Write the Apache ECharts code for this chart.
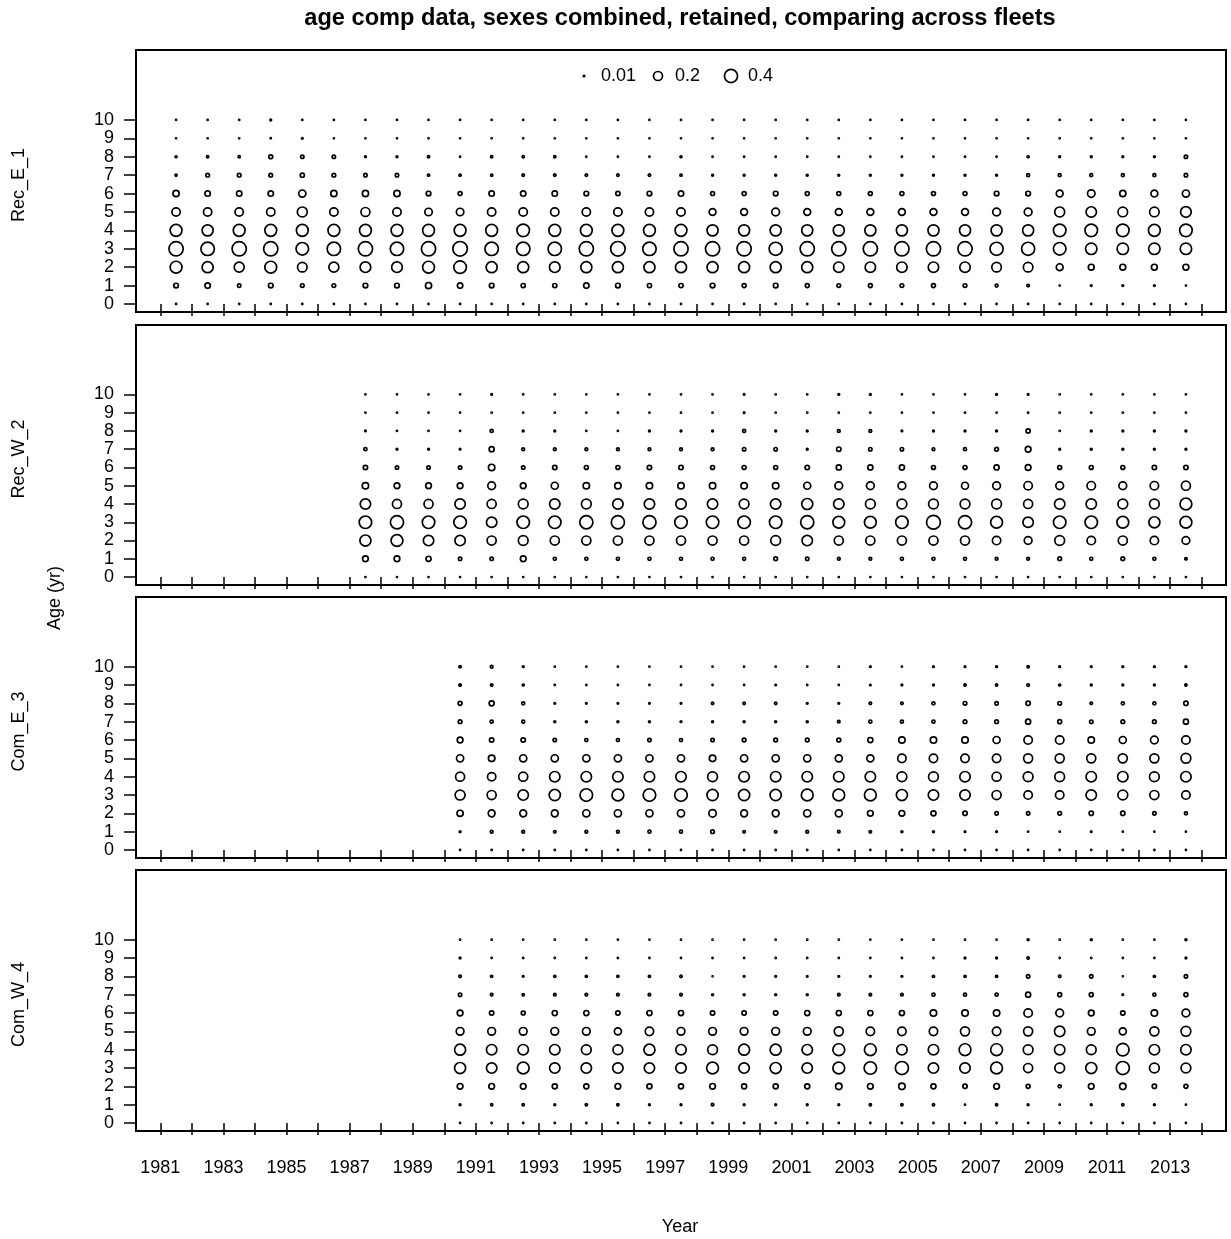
<!DOCTYPE html>
<html><head><meta charset="utf-8">
<script src="https://cdn.jsdelivr.net/npm/echarts@6/dist/echarts.min.js"></script>
<style>html,body{margin:0;padding:0;background:#fff}#c{width:1231px;height:1239px}</style>
</head><body><div id="c"></div>
<script>
// ---------- DATA ----------
const fleetNames = ['Rec_E_1', 'Rec_W_2', 'Com_E_3', 'Com_W_4'];
const ages = [0, 1, 2, 3, 4, 5, 6, 7, 8, 9, 10];
const xTickYears = [1981,1982,1983,1984,1985,1986,1987,1988,1989,1990,1991,1992,1993,1994,1995,1996,1997,1998,1999,2000,2001,2002,2003,2004,2005,2006,2007,2008,2009,2010,2011,2012,2013,2014];
const xLabelYears = [1981,1983,1985,1987,1989,1991,1993,1995,1997,1999,2001,2003,2005,2007,2009,2011,2013];
const legendValues = [0.01, 0.2, 0.4];

const recE1Years = [1981,1982,1983,1984,1985,1986,1987,1988,1989,1990,1991,1992,1993,1994,1995,1996,1997,1998,1999,2000,2001,2002,2003,2004,2005,2006,2007,2008,2009,2010,2011,2012,2013];
// rows = ages 0..10, columns = years
const recE1 = [
 [0.002,0.002,0.002,0.002,0.002,0.002,0.002,0.002,0.002,0.002,0.002,0.002,0.002,0.002,0.002,0.002,0.002,0.002,0.002,0.002,0.002,0.002,0.002,0.002,0.002,0.002,0.002,0.002,0.002,0.002,0.002,0.002,0.002],
 [0.06,0.078,0.035,0.06,0.04,0.04,0.06,0.06,0.1,0.078,0.06,0.05,0.05,0.078,0.06,0.05,0.05,0.06,0.045,0.06,0.045,0.04,0.045,0.04,0.045,0.04,0.027,0.022,0.007,0.012,0.012,0.012,0.005],
 [0.33,0.29,0.24,0.33,0.22,0.24,0.27,0.27,0.33,0.37,0.29,0.29,0.27,0.29,0.29,0.29,0.29,0.29,0.29,0.29,0.29,0.26,0.26,0.26,0.26,0.26,0.22,0.22,0.12,0.09,0.09,0.09,0.09],
 [0.47,0.42,0.47,0.47,0.37,0.42,0.47,0.42,0.47,0.49,0.42,0.42,0.42,0.47,0.49,0.42,0.47,0.47,0.47,0.4,0.47,0.47,0.47,0.47,0.47,0.47,0.4,0.4,0.37,0.31,0.31,0.31,0.31],
 [0.33,0.29,0.33,0.33,0.33,0.33,0.33,0.33,0.33,0.33,0.33,0.37,0.33,0.33,0.33,0.33,0.33,0.29,0.29,0.29,0.29,0.29,0.29,0.29,0.29,0.29,0.29,0.29,0.37,0.37,0.37,0.33,0.37],
 [0.17,0.17,0.17,0.17,0.24,0.17,0.195,0.17,0.14,0.14,0.17,0.17,0.17,0.17,0.17,0.17,0.17,0.12,0.12,0.15,0.12,0.12,0.12,0.12,0.12,0.12,0.15,0.15,0.24,0.26,0.22,0.22,0.27],
 [0.1,0.078,0.078,0.078,0.13,0.1,0.1,0.1,0.06,0.045,0.078,0.078,0.078,0.06,0.05,0.06,0.078,0.045,0.045,0.06,0.045,0.045,0.045,0.045,0.045,0.045,0.06,0.06,0.12,0.14,0.1,0.12,0.13],
 [0.015,0.04,0.04,0.04,0.05,0.04,0.035,0.035,0.018,0.018,0.018,0.02,0.02,0.02,0.02,0.02,0.018,0.013,0.013,0.013,0.013,0.013,0.013,0.013,0.013,0.013,0.013,0.027,0.027,0.027,0.027,0.027,0.035],
 [0.015,0.018,0.018,0.045,0.035,0.035,0.013,0.013,0.018,0.006,0.018,0.018,0.018,0.006,0.006,0.006,0.015,0.006,0.006,0.006,0.006,0.006,0.006,0.006,0.006,0.006,0.006,0.015,0.012,0.012,0.012,0.012,0.035],
 [0.004,0.004,0.004,0.008,0.012,0.004,0.004,0.004,0.004,0.004,0.004,0.004,0.004,0.004,0.004,0.004,0.004,0.003,0.003,0.003,0.003,0.003,0.003,0.003,0.003,0.003,0.003,0.003,0.003,0.003,0.003,0.003,0.003],
 [0.004,0.004,0.004,0.012,0.004,0.004,0.004,0.004,0.004,0.004,0.004,0.004,0.004,0.004,0.004,0.004,0.004,0.003,0.003,0.003,0.003,0.003,0.003,0.003,0.003,0.003,0.003,0.003,0.003,0.003,0.003,0.003,0.003]
];

const recW2Years = [1987,1988,1989,1990,1991,1992,1993,1994,1995,1996,1997,1998,1999,2000,2001,2002,2003,2004,2005,2006,2007,2008,2009,2010,2011,2012,2013];
const recW2 = [
 [0.002,0.002,0.002,0.002,0.002,0.002,0.002,0.002,0.002,0.002,0.002,0.002,0.002,0.002,0.002,0.002,0.002,0.002,0.002,0.002,0.002,0.002,0.002,0.002,0.002,0.002,0.002],
 [0.086,0.086,0.07,0.035,0.035,0.086,0.03,0.03,0.03,0.03,0.03,0.03,0.03,0.04,0.035,0.025,0.025,0.03,0.03,0.03,0.025,0.025,0.04,0.03,0.04,0.03,0.02],
 [0.29,0.33,0.26,0.26,0.2,0.23,0.2,0.2,0.2,0.2,0.2,0.2,0.2,0.23,0.26,0.2,0.2,0.2,0.2,0.2,0.175,0.15,0.23,0.175,0.2,0.175,0.15],
 [0.366,0.405,0.366,0.366,0.26,0.366,0.366,0.405,0.405,0.405,0.366,0.366,0.366,0.366,0.405,0.33,0.33,0.366,0.445,0.405,0.33,0.26,0.366,0.366,0.33,0.29,0.33],
 [0.26,0.2,0.2,0.26,0.2,0.23,0.26,0.23,0.26,0.26,0.26,0.26,0.23,0.26,0.29,0.26,0.23,0.23,0.23,0.23,0.23,0.2,0.26,0.26,0.23,0.23,0.33],
 [0.106,0.086,0.086,0.086,0.15,0.086,0.125,0.106,0.106,0.106,0.106,0.106,0.106,0.106,0.125,0.15,0.15,0.15,0.15,0.125,0.15,0.175,0.15,0.175,0.15,0.175,0.2],
 [0.054,0.035,0.035,0.035,0.106,0.035,0.054,0.045,0.045,0.054,0.054,0.045,0.045,0.045,0.054,0.07,0.07,0.07,0.045,0.045,0.07,0.086,0.045,0.045,0.045,0.054,0.054],
 [0.03,0.012,0.012,0.01,0.07,0.025,0.025,0.025,0.025,0.025,0.025,0.025,0.035,0.035,0.012,0.054,0.035,0.035,0.025,0.03,0.04,0.086,0.012,0.014,0.014,0.012,0.012],
 [0.01,0.004,0.003,0.003,0.03,0.012,0.012,0.004,0.004,0.012,0.012,0.012,0.03,0.012,0.012,0.025,0.025,0.01,0.012,0.012,0.012,0.048,0.004,0.012,0.012,0.012,0.012],
 [0.003,0.003,0.003,0.003,0.004,0.003,0.003,0.003,0.003,0.003,0.003,0.003,0.01,0.003,0.003,0.003,0.003,0.003,0.003,0.003,0.003,0.008,0.003,0.003,0.003,0.003,0.003],
 [0.003,0.003,0.003,0.003,0.01,0.003,0.003,0.003,0.003,0.003,0.003,0.003,0.01,0.003,0.003,0.012,0.012,0.003,0.003,0.003,0.012,0.01,0.003,0.003,0.003,0.003,0.003]
];

const comE3Years = [1990,1991,1992,1993,1994,1995,1996,1997,1998,1999,2000,2001,2002,2003,2004,2005,2006,2007,2008,2009,2010,2011,2012,2013];
const comE3 = [
 [0.002,0.002,0.002,0.002,0.002,0.002,0.002,0.002,0.002,0.002,0.002,0.002,0.002,0.002,0.002,0.002,0.002,0.002,0.002,0.002,0.002,0.002,0.002,0.002],
 [0.012,0.025,0.025,0.02,0.025,0.025,0.03,0.03,0.04,0.02,0.02,0.025,0.022,0.02,0.014,0.014,0.01,0.01,0.004,0.004,0.01,0.004,0.004,0.004],
 [0.1,0.12,0.12,0.12,0.13,0.13,0.13,0.13,0.14,0.12,0.12,0.13,0.125,0.086,0.086,0.07,0.054,0.035,0.035,0.04,0.054,0.054,0.035,0.03],
 [0.24,0.2,0.26,0.3,0.37,0.33,0.37,0.37,0.3,0.3,0.3,0.33,0.33,0.33,0.29,0.26,0.26,0.2,0.175,0.175,0.26,0.23,0.2,0.175],
 [0.2,0.17,0.2,0.26,0.26,0.26,0.26,0.26,0.23,0.26,0.26,0.26,0.26,0.26,0.23,0.23,0.26,0.2,0.23,0.23,0.26,0.26,0.23,0.26],
 [0.13,0.11,0.13,0.13,0.13,0.13,0.13,0.13,0.11,0.13,0.13,0.13,0.125,0.125,0.175,0.175,0.175,0.175,0.2,0.2,0.2,0.2,0.2,0.23],
 [0.086,0.054,0.054,0.035,0.03,0.03,0.035,0.03,0.035,0.04,0.04,0.04,0.045,0.07,0.106,0.106,0.106,0.125,0.175,0.175,0.106,0.125,0.15,0.175],
 [0.04,0.03,0.03,0.014,0.014,0.014,0.014,0.012,0.014,0.014,0.014,0.014,0.022,0.03,0.03,0.03,0.04,0.04,0.07,0.045,0.035,0.04,0.04,0.07],
 [0.045,0.07,0.03,0.012,0.01,0.01,0.01,0.01,0.02,0.02,0.02,0.012,0.012,0.022,0.022,0.03,0.04,0.035,0.054,0.04,0.022,0.03,0.03,0.054],
 [0.02,0.02,0.015,0.004,0.004,0.004,0.004,0.004,0.004,0.004,0.01,0.004,0.004,0.01,0.012,0.012,0.018,0.018,0.022,0.015,0.012,0.012,0.012,0.018],
 [0.02,0.025,0.012,0.004,0.004,0.004,0.004,0.004,0.004,0.004,0.004,0.004,0.004,0.01,0.004,0.01,0.01,0.012,0.018,0.012,0.01,0.012,0.012,0.012]
];

const comW4Years = [1990,1991,1992,1993,1994,1995,1996,1997,1998,1999,2000,2001,2002,2003,2004,2005,2006,2007,2008,2009,2010,2011,2012,2013];
const comW4 = [
 [0.002,0.002,0.002,0.002,0.002,0.002,0.002,0.002,0.002,0.002,0.002,0.002,0.002,0.002,0.002,0.002,0.002,0.002,0.002,0.002,0.002,0.002,0.002,0.002],
 [0.012,0.018,0.018,0.012,0.018,0.018,0.012,0.012,0.022,0.012,0.012,0.012,0.012,0.018,0.018,0.018,0.005,0.018,0.012,0.004,0.012,0.018,0.012,0.004],
 [0.086,0.086,0.086,0.07,0.07,0.086,0.07,0.07,0.086,0.07,0.07,0.07,0.106,0.086,0.106,0.07,0.054,0.086,0.045,0.03,0.086,0.106,0.054,0.045],
 [0.29,0.26,0.33,0.26,0.26,0.26,0.26,0.26,0.33,0.26,0.29,0.26,0.33,0.366,0.4,0.26,0.26,0.33,0.2,0.23,0.29,0.4,0.23,0.23],
 [0.29,0.26,0.26,0.26,0.23,0.23,0.29,0.26,0.23,0.29,0.29,0.26,0.33,0.33,0.26,0.26,0.33,0.33,0.23,0.26,0.23,0.366,0.26,0.26],
 [0.15,0.15,0.15,0.15,0.15,0.125,0.175,0.15,0.15,0.15,0.15,0.15,0.2,0.175,0.175,0.175,0.2,0.175,0.2,0.26,0.15,0.125,0.2,0.23],
 [0.086,0.054,0.045,0.07,0.07,0.054,0.07,0.07,0.054,0.054,0.054,0.07,0.07,0.07,0.07,0.106,0.106,0.106,0.175,0.15,0.086,0.054,0.106,0.15],
 [0.035,0.022,0.018,0.022,0.022,0.022,0.022,0.022,0.014,0.014,0.014,0.014,0.022,0.022,0.022,0.03,0.03,0.03,0.07,0.045,0.045,0.01,0.03,0.045],
 [0.022,0.018,0.012,0.018,0.018,0.018,0.018,0.02,0.004,0.012,0.012,0.01,0.012,0.012,0.012,0.018,0.018,0.018,0.035,0.022,0.035,0.004,0.018,0.035],
 [0.012,0.003,0.003,0.003,0.003,0.003,0.003,0.003,0.003,0.003,0.003,0.003,0.003,0.003,0.003,0.003,0.012,0.012,0.018,0.003,0.003,0.003,0.003,0.012],
 [0.003,0.003,0.003,0.003,0.003,0.003,0.003,0.003,0.003,0.003,0.003,0.003,0.003,0.003,0.003,0.003,0.003,0.003,0.014,0.003,0.014,0.003,0.003,0.014]
];

// ---------- BUILD ----------
const fleetYears = [recE1Years, recW2Years, comE3Years, comW4Years];
const fleetData = [recE1, recW2, comE3, comW4];

const FONT = 'Liberation Sans, Arial, Helvetica, sans-serif';
const gridLeft = 136, gridRight = 5;
const gridTops = [50, 325, 597, 870];
const gridHeights = [262, 260, 261, 261];
const STROKE = 1.7;
function bubbleSize(v) { return Math.max(1.1, 21.8 * Math.sqrt(v) - 0.7); }

const grids = [], xAxes = [], yAxes = [], series = [];
for (let i = 0; i < 4; i++) {
  grids.push({ left: gridLeft, right: gridRight, top: gridTops[i], height: gridHeights[i],
    show: true, borderColor: '#000', borderWidth: 2, backgroundColor: '#fff', containLabel: false });
  xAxes.push({ type: 'value', gridIndex: i, min: 1980.23, max: 2014.77,
    axisLine: { show: false },
    axisTick: { show: true, length: 12, customValues: xTickYears, lineStyle: { color: '#000', width: 1.5 } },
    axisLabel: { show: i === 3, customValues: xLabelYears, margin: 28, fontSize: 18, color: '#000', fontFamily: FONT,
      formatter: v => String(v) },
    splitLine: { show: false } });
  yAxes.push({ type: 'value', gridIndex: i, min: -0.435, max: 13.8,
    axisLine: { show: false },
    axisTick: { show: true, length: 12, customValues: ages, lineStyle: { color: '#000', width: 1.5 } },
    axisLabel: { show: true, customValues: ages, margin: 22, fontSize: 18, color: '#000', fontFamily: FONT,
      formatter: v => String(v) },
    splitLine: { show: false } });
  const pts = [];
  const yrs = fleetYears[i], tab = fleetData[i];
  for (let a = 0; a < ages.length; a++) {
    for (let j = 0; j < yrs.length; j++) {
      pts.push([yrs[j] + 0.5, ages[a], tab[a][j]]);
    }
  }
  series.push({ type: 'scatter', xAxisIndex: i, yAxisIndex: i, data: pts, symbol: 'circle',
    symbolSize: d => bubbleSize(d[2]),
    itemStyle: { color: 'rgba(0,0,0,0)', borderColor: '#000', borderWidth: STROKE, opacity: 1 },
    emphasis: { disabled: true }, silent: true, animation: false });
}

const graphics = [];
graphics.push({ type: 'text', x: 680, y: 18, style: { text: 'age comp data, sexes combined, retained, comparing across fleets',
  font: 'bold 23.6px ' + FONT, fill: '#000', align: 'center', verticalAlign: 'middle' } });
graphics.push({ type: 'text', x: 680, y: 1227, style: { text: 'Year', font: '18px ' + FONT, fill: '#000', align: 'center', verticalAlign: 'middle' } });
graphics.push({ type: 'text', x: 55, y: 598, rotation: Math.PI / 2, style: { text: 'Age (yr)', font: '18px ' + FONT, fill: '#000', align: 'center', verticalAlign: 'middle' } });
for (let i = 0; i < 4; i++) {
  graphics.push({ type: 'text', x: 19, y: gridTops[i] + gridHeights[i] / 2 + 4, rotation: Math.PI / 2,
    style: { text: fleetNames[i], font: '18px ' + FONT, fill: '#000', align: 'center', verticalAlign: 'middle' } });
}
// legend (key sizes use the same size function as the bubbles)
const legendX = [584, 658, 731];
for (let k = 0; k < legendValues.length; k++) {
  graphics.push({ type: 'circle', shape: { cx: legendX[k], cy: 76, r: bubbleSize(legendValues[k]) / 2 },
    style: { fill: 'none', stroke: '#000', lineWidth: STROKE } });
  graphics.push({ type: 'text', x: legendX[k] + 17, y: 76, style: { text: String(legendValues[k]), font: '18px ' + FONT, fill: '#000', align: 'left', verticalAlign: 'middle' } });
}

const chart = echarts.init(document.getElementById('c'), null, { renderer: 'canvas' });
chart.setOption({
  backgroundColor: '#fff', animation: false,
  grid: grids, xAxis: xAxes, yAxis: yAxes, series: series, graphic: graphics
});
</script></body></html>
